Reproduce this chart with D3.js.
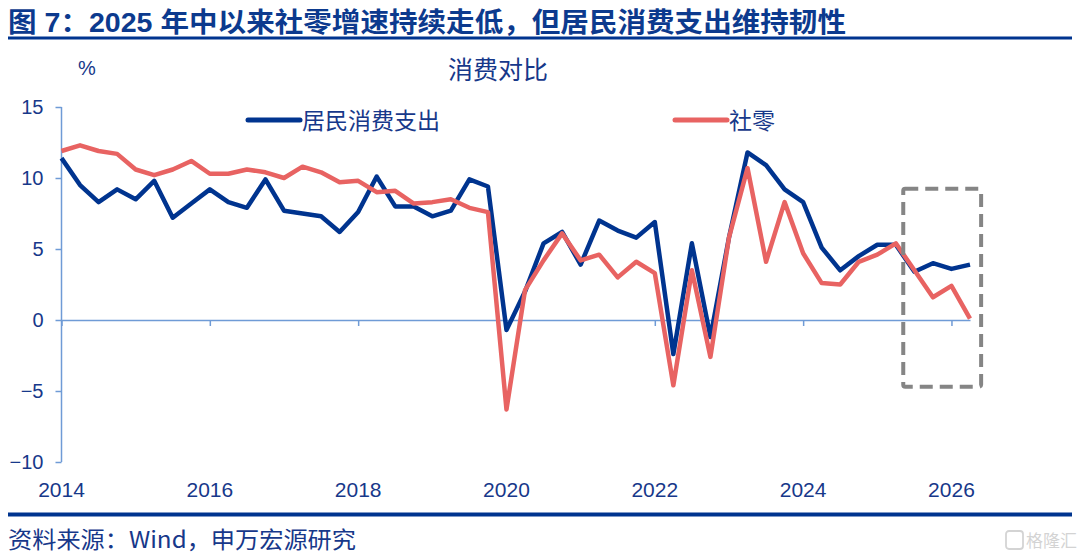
<!DOCTYPE html>
<html>
<head>
<meta charset="utf-8">
<script src="https://cdn.jsdelivr.net/npm/d3@7"></script>
<style>
  body { margin: 0; background: #fff; }
  svg { display: block; font-family: "Liberation Sans", Arial, "Noto Sans CJK SC", sans-serif; }
  .axis path, .axis line { stroke: #6f9bd6; stroke-width: 1.5; }
  .axis text { fill: #17388a; font-size: 20px; }
</style>
</head>
<body>
<svg id="chart" width="1080" height="554"></svg>
<script>
// quarterly categories
const quarters = [
  '2014Q1','2014Q2','2014Q3','2014Q4','2015Q1','2015Q2','2015Q3','2015Q4',
  '2016Q1','2016Q2','2016Q3','2016Q4','2017Q1','2017Q2','2017Q3','2017Q4',
  '2018Q1','2018Q2','2018Q3','2018Q4','2019Q1','2019Q2','2019Q3','2019Q4',
  '2020Q1','2020Q2','2020Q3','2020Q4','2021Q1','2021Q2','2021Q3','2021Q4',
  '2022Q1','2022Q2','2022Q3','2022Q4','2023Q1','2023Q2','2023Q3','2023Q4',
  '2024Q1','2024Q2','2024Q3','2024Q4','2025Q1','2025Q2','2025Q3','2025Q4',
  '2026Q1','2026Q2'
];

// 居民消费支出
const consumption = [
  11.4, 9.5, 8.3, 9.2, 8.5, 9.8, 7.2, 8.2, 9.2, 8.3,
  7.9, 9.9, 7.7, 7.5, 7.3, 6.2, 7.6, 10.1, 8.0, 8.0,
  7.3, 7.7, 9.9, 9.4, -0.7, 2.0, 5.4, 6.2, 3.9, 7.0,
  6.3, 5.8, 6.9, -2.4, 5.4, -1.2, 5.8, 11.8, 10.9, 9.2,
  8.3, 5.1, 3.5, 4.5, 5.3, 5.3, 3.4, 4.0, 3.6, 3.9
];

// 社零
const retail = [
  11.9, 12.3, 11.9, 11.7, 10.6, 10.2, 10.6, 11.2, 10.3, 10.3,
  10.6, 10.4, 10.0, 10.8, 10.4, 9.7, 9.8, 9.0, 9.1, 8.2,
  8.3, 8.5, 7.9, 7.6, -6.3, 2.1, 4.2, 6.1, 4.2, 4.6,
  3.0, 4.1, 3.3, -4.6, 3.5, -2.6, 5.8, 10.7, 4.1, 8.3,
  4.7, 2.6, 2.5, 4.1, 4.6, 5.4, 3.5, 1.6, 2.4, 0.1
];

const yearTicks = ['2014', '2016', '2018', '2020', '2022', '2024', '2026'];
const yTicks = [-10, -5, 0, 5, 10, 15];

const series = [
  { name: '居民消费支出', values: consumption, colour: '#00348f' },
  { name: '社零', values: retail, colour: '#e86362' }
];

const svg = d3.select('#chart');
const textColour = '#17388a';

// Title and rules
svg.append('text')
    .attr('x', 8)
    .attr('y', 32)
    .attr('fill', '#0c3a8e')
    .attr('textLength', 838)
    .attr('lengthAdjust', 'spacingAndGlyphs')
    .style('font-size', '27px')
    .style('font-weight', 'bold')
    .style('font-family', '"Liberation Sans", "Noto Sans CJK SC", sans-serif')
    .text('图 7：2025 年中以来社零增速持续走低，但居民消费支出维持韧性');

svg.append('rect').attr('x', 8).attr('y', 36.5).attr('width', 1064).attr('height', 3).attr('fill', '#00348f');
svg.append('rect').attr('x', 8).attr('y', 512.5).attr('width', 1064).attr('height', 4).attr('fill', '#00348f');

svg.append('text')
    .attr('x', 8)
    .attr('y', 548)
    .attr('fill', textColour)
    .attr('textLength', 348)
    .attr('lengthAdjust', 'spacingAndGlyphs')
    .style('font-size', '23px')
    .style('font-family', '"Noto Sans CJK SC", sans-serif')
    .text('资料来源：Wind，申万宏源研究');

// watermark
const wm = svg.append('g').attr('transform', 'translate(1006,531)').attr('opacity', 0.45);
wm.append('rect').attr('x', 0).attr('y', 0).attr('width', 17).attr('height', 18).attr('rx', 3)
    .attr('fill', 'none').attr('stroke', '#a0a0a0').attr('stroke-width', 1.8);
wm.append('text').attr('x', 20).attr('y', 16).attr('fill', '#a0a0a0')
    .style('font-size', '17px').style('font-family', '"Noto Sans CJK SC", sans-serif').text('格隆汇');

// Scales
const xScale = d3.scaleLinear()
  .domain([0, quarters.length - 1])
  .range([61.5, 970]);

const yScale = d3.scaleLinear()
  .domain([-10, 15])
  .range([462, 107]);

// Axis labels
svg.append('text')
    .attr('x', 87).attr('y', 75)
    .attr('text-anchor', 'middle')
    .attr('fill', textColour)
    .style('font-size', '20px')
    .text('%');

svg.append('text')
    .attr('x', 498).attr('y', 79)
    .attr('text-anchor', 'middle')
    .attr('fill', textColour)
    .style('font-size', '25px')
    .style('font-family', '"Noto Sans CJK SC", sans-serif')
    .text('消费对比');

// Y axis
const yAxis = d3.axisLeft(yScale)
  .tickValues(yTicks)
  .tickSize(6)
  .tickSizeOuter(0)
  .tickPadding(12);

const yAxisG = svg.append('g')
    .attr('class', 'axis y-axis')
    .attr('transform', `translate(${xScale(0)},0)`)
    .call(yAxis);
yAxisG.select('.domain').attr('d', `M0,${yScale(15)}V${yScale(-10)}`);

// X axis on zero line
const tickIdx = yearTicks.map(y => quarters.indexOf(y + 'Q1'));
const xAxis = d3.axisBottom(xScale)
  .tickValues(tickIdx)
  .tickSize(6)
  .tickSizeOuter(0)
  .tickFormat('');

svg.append('g')
    .attr('class', 'axis x-axis')
    .attr('transform', `translate(0,${yScale(0)})`)
    .call(xAxis);

// Year labels below the plot
svg.selectAll('.year-label').data(yearTicks)
  .enter().append('text')
    .attr('class', 'year-label')
    .attr('x', (d, i) => xScale(tickIdx[i]))
    .attr('y', 497)
    .attr('text-anchor', 'middle')
    .attr('fill', textColour)
    .style('font-size', '21px')
    .text(d => d);

// Lines
const line = d3.line()
  .x((d, i) => xScale(i))
  .y(d => yScale(d));

svg.selectAll('.series').data(series)
  .enter().append('path')
    .attr('class', 'series')
    .attr('d', d => line(d.values))
    .attr('fill', 'none')
    .attr('stroke', d => d.colour)
    .attr('stroke-width', 4.5)
    .attr('stroke-linejoin', 'round');

// Highlight box round the last quarters
svg.append('rect')
    .attr('x', xScale(45.4))
    .attr('y', yScale(9.25))
    .attr('width', xScale(49.6) - xScale(45.4))
    .attr('height', yScale(-4.7) - yScale(9.25))
    .attr('rx', 2)
    .attr('fill', 'none')
    .attr('stroke', '#858585')
    .attr('stroke-width', 4)
    .attr('stroke-dasharray', '13 7');

// Legend
const legendPos = [{ x: 248, y: 120 }, { x: 675, y: 120 }];
const legend = svg.selectAll('.legend').data(series)
  .enter().append('g')
    .attr('class', 'legend')
    .attr('transform', (d, i) => `translate(${legendPos[i].x},${legendPos[i].y})`);
legend.append('line')
    .attr('x1', 0).attr('x2', 52)
    .attr('stroke', d => d.colour)
    .attr('stroke-width', 5)
    .attr('stroke-linecap', 'round');
legend.append('text')
    .attr('x', 54).attr('y', 8.5)
    .attr('fill', textColour)
    .style('font-size', '23px')
    .style('font-family', '"Noto Sans CJK SC", sans-serif')
    .text(d => d.name);
</script>
</body>
</html>
